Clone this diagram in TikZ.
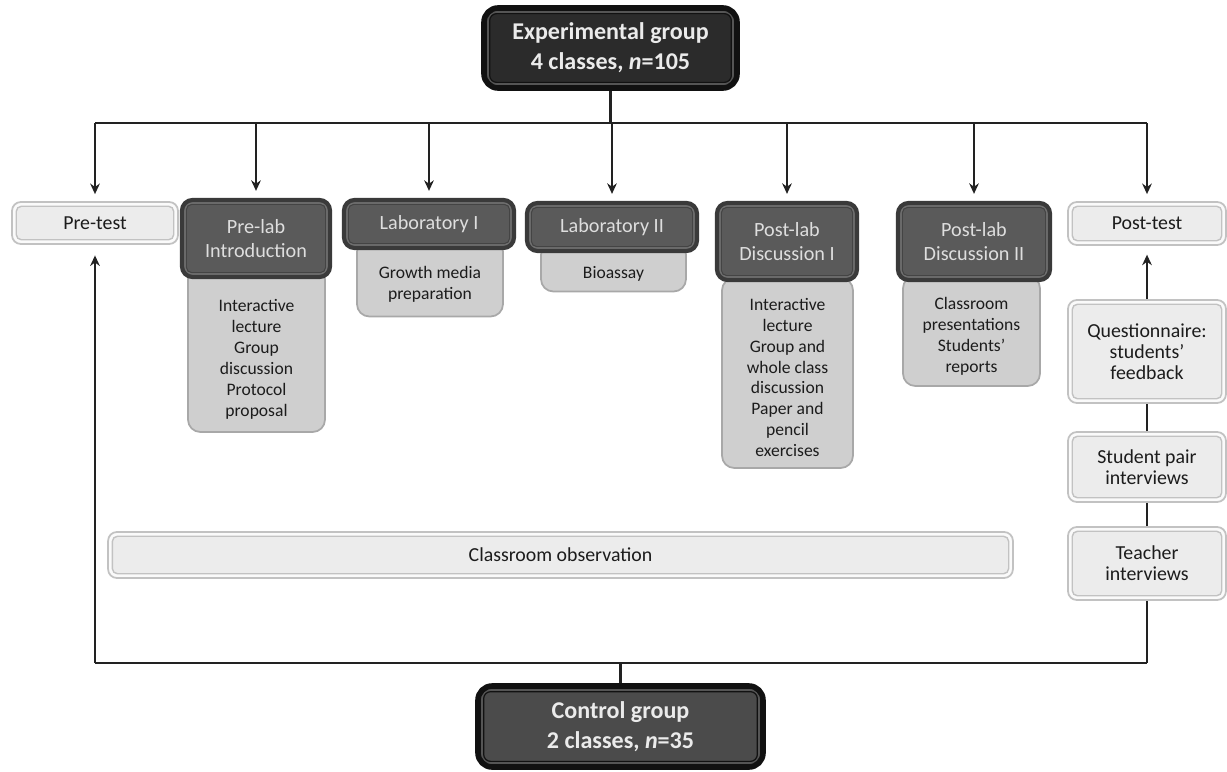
\documentclass[tikz,border=0pt]{standalone}
\usepackage{fontspec}
\setmainfont{Carlito}
\usetikzlibrary{arrows.meta}
\definecolor{topline}{HTML}{111111}
\definecolor{topring}{HTML}{555555}
\definecolor{topfill}{HTML}{2B2B2B}
\definecolor{ctlfill}{HTML}{4B4B4B}
\definecolor{hdrline}{HTML}{3A3A3A}
\definecolor{hdrring}{HTML}{707070}
\definecolor{hdrinner}{HTML}{444444}
\definecolor{hdrfill}{HTML}{5A5A5A}
\definecolor{hdrtext}{HTML}{DEDEDE}
\definecolor{bodyline}{HTML}{A8A8A8}
\definecolor{bodyfill}{HTML}{CFCFCF}
\definecolor{lightline}{HTML}{C2C2C2}
\definecolor{lightring}{HTML}{FAFAFA}
\definecolor{lightfill}{HTML}{ECECEC}
\definecolor{ink}{HTML}{1C1C1C}
\definecolor{conn}{HTML}{222222}
\newcommand\topgap[1]{\rule{0pt}{#1}}
\tikzset{
  groupbox/.style={rounded corners=8pt, draw=topline, line width=3.2pt, fill=topring,
    text=white!92!black, font=\bfseries\fontsize{13.7}{17}\selectfont, align=center, inner sep=0pt,
    path picture={\draw[draw=topline, line width=0.7pt, fill=#1, rounded corners=4pt]
      ([shift={(3.2pt,3.2pt)}]path picture bounding box.south west) rectangle
      ([shift={(-3.2pt,-3.2pt)}]path picture bounding box.north east);}},
  hdr/.style={rounded corners=6pt, draw=hdrline, line width=2.4pt, fill=hdrring,
    text=hdrtext, font=\fontsize{11.5}{13.2}\selectfont, align=center, inner sep=0pt,
    path picture={\draw[draw=hdrinner, line width=0.6pt, fill=hdrfill, rounded corners=3pt]
      ([shift={(2.5pt,2.5pt)}]path picture bounding box.south west) rectangle
      ([shift={(-2.5pt,-2.5pt)}]path picture bounding box.north east);}},
  body/.style={rounded corners=7pt, draw=bodyline, line width=1pt, fill=bodyfill,
    text=ink, font=\fontsize{10}{11.9}\selectfont, align=center, inner sep=0pt},
  light/.style={rounded corners=5pt, draw=lightline, line width=1pt, fill=lightring,
    text=ink, font=\fontsize{11.3}{12}\selectfont, align=center, inner sep=0pt,
    path picture={\draw[draw=lightline, line width=0.8pt, fill=lightfill, rounded corners=3pt]
      ([shift={(2.4pt,2.4pt)}]path picture bounding box.south west) rectangle
      ([shift={(-2.4pt,-2.4pt)}]path picture bounding box.north east);}},
  conn/.style={draw=conn, line width=1.2pt},
  arr/.style={conn, -{Stealth[length=6pt,width=5.5pt]}},
}
\begin{document}
\begin{tikzpicture}[x=0.02cm,y=-0.02cm]
\useasboundingbox (0,0) rectangle (1227,771);

% top and bottom groups
\node[groupbox=topfill, minimum width=5.06cm, minimum height=1.6cm] (exp) at (610.5,48)
  {Experimental group\\4 classes, \textit{n}=105};
\node[groupbox=ctlfill, minimum width=5.7cm, minimum height=1.62cm] (ctl) at (620.5,726.5)
  {Control group\\2 classes, \textit{n}=35};

% bodies (behind headers)
\node[body, minimum width=2.74cm, minimum height=3.3cm] (prelabB) at (256.5,349.5)
  {\topgap{18pt}Interactive\\lecture\\Group\\discussion\\Protocol\\proposal};
\node[body, minimum width=2.92cm, minimum height=1.54cm] (labIB) at (430,278)
  {\topgap{14pt}Growth media\\preparation};
\node[body, minimum width=2.9cm, minimum height=0.98cm] (labIIB) at (613.5,267)
  {\topgap{15pt}Bioassay};
\node[body, minimum width=2.62cm, minimum height=3.8cm] (pldIB) at (787.5,373)
  {\topgap{12pt}Interactive\\lecture\\Group and\\whole class\\discussion\\Paper and\\pencil\\exercises};
\node[body, minimum width=2.74cm, minimum height=2.2cm] (pldIIB) at (971.5,331)
  {\topgap{13pt}Classroom\\presentations\\Students’\\reports};

% headers
\node[hdr, minimum width=2.96cm, minimum height=1.54cm] (prelab) at (256,238.5)
  {Pre-lab\\Introduction};
\node[hdr, minimum width=3.4cm, minimum height=0.96cm] (labI) at (429,224)
  {Laboratory I};
\node[hdr, minimum width=3.4cm, minimum height=0.96cm] (labII) at (612,227)
  {Laboratory II};
\node[hdr, minimum width=2.8cm, minimum height=1.54cm] (pldI) at (787,241.5)
  {Post-lab\\Discussion I};
\node[hdr, minimum width=3.04cm, minimum height=1.54cm] (pldII) at (974,241.5)
  {Post-lab\\Discussion II};

% light boxes
\node[light, minimum width=3.32cm, minimum height=0.84cm] (pre) at (95,223) {Pre-test};
\node[light, minimum width=3.16cm, minimum height=0.86cm] (post) at (1147,223.5) {Post-test};
\node[light, minimum width=3.16cm, minimum height=2.06cm] (quest) at (1147,351.5)
  {Questionnaire:\\students’\\feedback};
\node[light, minimum width=3.16cm, minimum height=1.4cm] (pair) at (1147,467)
  {Student pair\\interviews};
\node[light, minimum width=3.16cm, minimum height=1.46cm] (teach) at (1147,563.5)
  {Teacher\\interviews};
\node[light, minimum width=18.1cm, minimum height=0.92cm] (obs) at (560.5,555)
  {Classroom observation};

% top bus
\coordinate (bus) at (610.5,123);
\coordinate (bot) at (620.5,663);
\draw[conn] (exp.south) -- (bus);
\draw[conn] (pre |- bus) -- (post |- bus);
\foreach \n in {pre,prelab,labI,labII,pldI,pldII,post}
  \draw[arr, shorten >=4pt] (\n |- bus) -- (\n.north);

% bottom bus
\draw[conn] (ctl.north) -- (bot);
\draw[conn] (pre |- bot) -- (post |- bot);
\draw[arr, shorten >=6pt] (pre |- bot) -- (pre.south);
\draw[conn] (post |- bot) -- (teach.south);
\draw[conn] (teach.north) -- (pair.south);
\draw[conn] (pair.north) -- (quest.south);
\draw[arr, shorten >=5pt] (quest.north) -- (post.south);
\end{tikzpicture}
\end{document}
